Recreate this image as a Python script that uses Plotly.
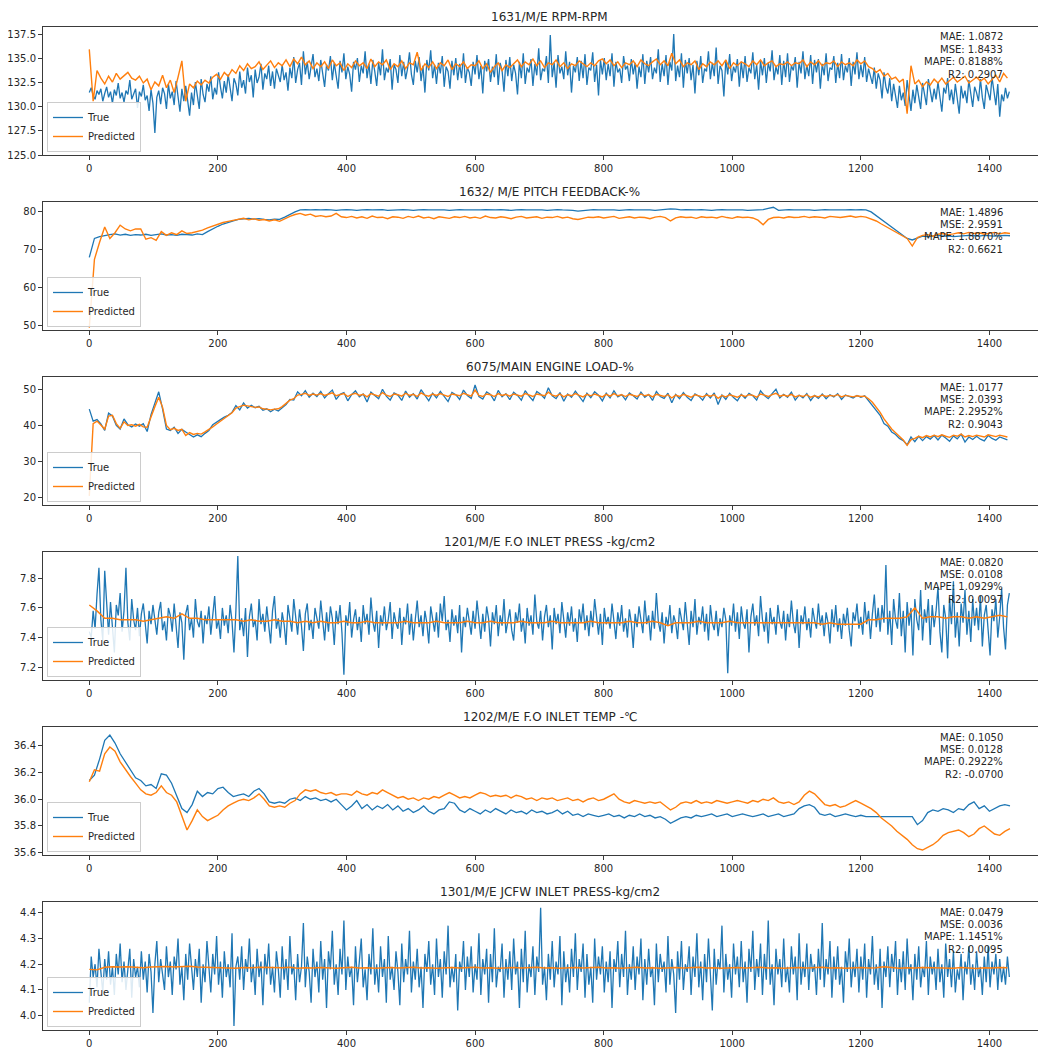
import plotly.graph_objects as go

# ---------------- data ----------------
titles = [
    "1631/M/E RPM-RPM",
    "1632/ M/E PITCH FEEDBACK-%",
    "6075/MAIN ENGINE LOAD-%",
    "1201/M/E F.O INLET PRESS -kg/cm2",
    "1202/M/E F.O INLET TEMP -\u2103",
    "1301/M/E JCFW INLET PRESS-kg/cm2",
]

metrics = [
    ["MAE: 1.0872", "MSE: 1.8433", "MAPE: 0.8188%", "R2: 0.2907"],
    ["MAE: 1.4896", "MSE: 2.9591", "MAPE: 1.8870%", "R2: 0.6621"],
    ["MAE: 1.0177", "MSE: 2.0393", "MAPE: 2.2952%", "R2: 0.9043"],
    ["MAE: 0.0820", "MSE: 0.0108", "MAPE: 1.0929%", "R2: 0.0097"],
    ["MAE: 0.1050", "MSE: 0.0128", "MAPE: 0.2922%", "R2: -0.0700"],
    ["MAE: 0.0479", "MSE: 0.0036", "MAPE: 1.1451%", "R2: 0.0095"],
]

x_ticks = [0, 200, 400, 600, 800, 1000, 1200, 1400]

y_ticks = [
    [125.0, 127.5, 130.0, 132.5, 135.0, 137.5],
    [50, 60, 70, 80],
    [20, 30, 40, 50],
    [7.2, 7.4, 7.6, 7.8],
    [35.6, 35.8, 36.0, 36.2, 36.4],
    [4.0, 4.1, 4.2, 4.3, 4.4],
]
y_tick_fmt = [".1f", "d", "d", ".1f", ".1f", ".1f"]

# sampling step (time index) of each stored series
true_step = [3, 8, 6, 3, 8, 3]
pred_step = [6, 8, 6, 12, 8, 12]

rpm_true = [
    131.5, 132.0, 131.2, 130.8, 131.7, 131.3, 131.9, 130.6, 131.4, 132.1,
    131.0, 131.6, 130.4, 131.8, 131.2, 132.5, 130.9, 131.5, 130.5, 131.7,
    131.3, 132.8, 130.8, 131.4, 131.9, 129.9, 131.6, 131.1, 132.3, 130.7,
    131.2, 129.6, 131.8, 130.4, 127.3, 131.0, 131.7, 130.3, 132.0, 131.4,
    129.8, 132.4, 130.9, 131.6, 130.2, 132.7, 131.1, 129.5, 131.9, 130.6,
    132.2, 130.8, 129.1, 131.5, 130.2, 132.6, 131.0, 129.8, 132.9, 131.3,
    130.5, 132.4, 131.6, 133.2, 130.8, 132.0, 131.3, 133.6, 132.1, 130.9,
    132.7, 131.5, 133.4, 132.2, 130.6, 133.0, 132.4, 131.2, 133.7, 132.0,
    132.8, 131.4, 134.1, 132.6, 133.3, 131.0, 133.9, 132.5, 133.1, 134.5,
    131.8, 133.5, 132.9, 134.3, 132.2, 133.7, 131.9, 134.0, 133.2, 132.6,
    134.4, 132.8, 133.6, 131.7, 134.1, 133.0, 135.2, 132.5, 133.9, 134.6,
    132.3, 135.8, 133.4, 134.7, 132.9, 134.2, 135.5, 133.1, 134.0, 132.7,
    134.9, 133.5, 132.1, 134.4, 133.8, 135.3, 132.8, 134.6, 133.2, 131.9,
    134.8, 133.6, 135.6, 132.9, 134.2, 133.4, 131.6, 134.7, 133.9, 135.1,
    132.6, 134.3, 133.5, 135.8, 133.0, 134.5, 132.4, 134.9, 133.7, 132.2,
    134.6, 133.3, 136.0, 132.8, 134.1, 133.6, 135.0, 131.8, 134.4, 133.9,
    132.5, 135.4, 133.2, 134.7, 132.9, 134.0, 135.7, 133.4, 132.3, 134.8,
    133.6, 135.2, 132.7, 134.3, 131.5, 134.9, 133.8, 135.9, 133.0, 134.4,
    132.4, 134.6, 133.5, 135.3, 132.1, 134.2, 133.7, 131.9, 134.8, 133.3,
    135.1, 132.8, 134.5, 133.0, 135.6, 132.5, 134.1, 133.6, 132.2, 134.7,
    133.4, 135.4, 132.9, 134.3, 131.4, 134.8, 133.7, 135.0, 132.6, 134.2,
    133.1, 135.5, 132.3, 134.6, 133.8, 131.6, 134.9, 133.2, 135.2, 132.7,
    134.4, 133.5, 131.3, 134.7, 133.0, 135.6, 132.4, 134.1, 133.6, 135.0,
    132.2, 134.5, 133.3, 136.1, 132.8, 134.0, 133.7, 135.3, 132.5, 137.5,
    133.1, 134.6, 132.0, 135.4, 133.5, 134.2, 132.9, 135.8, 133.3, 134.7,
    131.5, 134.3, 133.6, 135.2, 132.7, 134.8, 133.0, 135.5, 132.3, 134.1,
    133.8, 135.7, 132.6, 134.4, 131.2, 134.9, 133.4, 135.1, 132.8, 134.5,
    133.2, 135.6, 132.1, 134.7, 133.6, 134.0, 132.5, 135.3, 133.9, 134.3,
    132.7, 135.0, 133.4, 134.6, 131.9, 134.2, 133.1, 135.5, 132.4, 134.8,
    133.6, 135.2, 132.9, 134.1, 133.5, 136.0, 132.6, 134.5, 133.2, 135.4,
    132.3, 134.7, 133.8, 137.6, 132.7, 134.3, 133.1, 135.6, 132.0, 134.9,
    133.5, 135.1, 132.8, 134.4, 131.4, 134.8, 133.3, 135.3, 132.5, 134.0,
    133.7, 135.8, 132.9, 134.6, 133.2, 136.2, 132.4, 134.3, 133.8, 131.1,
    134.9, 133.4, 135.5, 132.7, 134.2, 133.6, 135.0, 132.1, 134.7, 133.0,
    135.3, 132.6, 134.1, 133.5, 135.7, 132.9, 134.4, 131.8, 134.8, 133.3,
    135.1, 132.5, 134.6, 133.7, 135.9, 132.8, 134.2, 133.4, 135.4, 132.3,
    134.8, 133.1, 135.6, 132.6, 134.3, 133.8, 135.2, 132.0, 134.7, 133.5,
    135.8, 132.9, 134.4, 133.2, 135.4, 132.4, 134.9, 133.6, 135.0, 131.9,
    134.5, 133.3, 135.6, 132.7, 134.1, 133.9, 135.3, 132.5, 134.6, 133.0,
    135.5, 132.8, 134.3, 133.6, 135.1, 132.2, 134.7, 133.4, 135.7, 132.9,
    134.4, 133.1, 135.2, 132.6, 134.0, 133.3, 132.4, 134.1, 131.9, 133.5,
    132.8, 130.9, 133.6, 132.1, 131.4, 133.0, 130.6, 132.4, 131.2, 129.9,
    132.2, 130.7, 131.5, 130.1, 132.8, 130.9, 129.6, 131.8, 130.4, 132.3,
    131.0, 129.8, 132.5, 131.3, 130.2, 132.9, 131.6, 130.5, 131.9, 130.8,
    132.6, 131.2, 129.5, 132.0, 131.4, 133.0, 130.7, 131.8, 130.3, 132.4,
    131.1, 129.3, 132.2, 130.9, 131.7, 130.4, 132.8, 131.3, 130.0, 132.1,
    131.5, 130.6, 132.9, 131.0, 129.8, 132.3, 131.4, 130.7, 133.1, 131.6,
    130.2, 132.4, 129.0, 131.3, 130.6, 132.0, 130.9, 131.6,
]
rpm_pred = [
    136.0, 130.6, 133.8, 133.0, 132.4, 133.2, 132.6, 133.5, 132.9, 133.3,
    133.6, 133.0, 132.8, 133.2, 132.5, 132.9, 131.8, 132.6, 132.2, 133.3,
    132.0, 132.8, 131.5, 133.1, 134.8, 130.6, 132.4, 132.0, 132.7, 132.3,
    132.8, 132.5, 133.1, 133.4, 132.9, 133.6, 133.2, 133.9, 133.5, 134.3,
    133.8, 134.5, 134.0, 134.2, 134.7, 133.9, 134.4, 134.8, 134.1, 134.6,
    134.3, 134.9, 134.2, 135.0, 134.5, 135.2, 134.4, 134.8, 134.0, 134.6,
    134.2, 134.7, 134.0, 134.9, 134.3, 134.6, 133.8, 134.5, 134.1, 134.8,
    134.3, 134.6, 134.0, 135.0, 134.2, 134.7, 134.4, 134.9, 133.9, 134.5,
    134.2, 134.8, 134.0, 134.6, 134.4, 135.7, 133.8, 134.5, 134.1, 134.7,
    134.0, 134.6, 134.3, 134.9, 133.9, 134.5, 134.2, 134.7, 134.0, 134.4,
    134.3, 134.8, 134.0, 134.5, 133.6, 134.2, 134.6, 133.8, 134.4, 134.1,
    134.5, 134.9, 134.2, 134.7, 134.4, 135.0, 134.3, 134.8, 134.1, 134.6,
    134.4, 134.9, 134.2, 134.6, 134.0, 134.5, 134.3, 134.8, 134.5, 134.2,
    134.6, 134.3, 134.8, 135.0, 134.5, 134.9, 134.3, 134.7, 134.1, 134.6,
    134.4, 134.8, 134.2, 134.9, 134.5, 134.3, 134.7, 135.0, 134.4, 134.8,
    134.3, 135.6, 134.5, 134.9, 134.2, 134.6, 134.4, 134.8, 133.9, 134.5,
    134.2, 134.7, 134.4, 134.8, 134.3, 134.9, 134.0, 134.6, 134.3, 134.7,
    134.5, 134.2, 134.8, 134.4, 134.9, 134.3, 134.6, 134.8, 134.2, 134.5,
    134.4, 134.7, 134.3, 134.6, 134.5, 134.9, 134.2, 134.7, 134.4, 134.8,
    134.3, 134.6, 134.5, 134.8, 134.2, 134.7, 134.4, 134.6, 134.3, 134.9,
    134.5, 134.8, 134.2, 134.0, 133.6, 133.9, 133.2, 133.5, 132.9, 133.1,
    132.6, 132.9, 129.3, 134.3, 132.4, 132.8, 132.1, 132.6, 132.3, 132.9,
    132.5, 133.0, 132.4, 132.8, 133.1, 132.6, 132.9, 133.2, 132.5, 132.8,
    133.1, 132.7, 133.0, 132.4, 132.9, 133.3, 132.6, 133.5, 133.0,
]

pitch_true = [
    68.0, 73.0, 73.5, 73.8, 74.0, 74.2, 73.9, 74.1, 73.8, 74.0,
    73.9, 74.1, 73.8, 74.0, 74.2, 73.9, 74.0, 73.8, 74.1, 74.0,
    73.9, 74.2, 74.0, 74.8, 75.6, 76.2, 76.8, 77.3, 77.6, 78.0,
    78.2, 78.3, 78.1, 78.2, 78.0, 77.9, 78.1, 78.0, 78.6, 79.4,
    80.0, 80.5, 80.6, 80.5, 80.6, 80.5, 80.6, 80.5, 80.4, 80.5,
    80.6, 80.5, 80.4, 80.5, 80.6, 80.5, 80.5, 80.6, 80.4, 80.5,
    80.5, 80.6, 80.5, 80.4, 80.5, 80.6, 80.5, 80.5, 80.6, 80.5,
    80.4, 80.5, 80.6, 80.5, 80.5, 80.4, 80.5, 80.6, 80.5, 80.5,
    80.6, 80.5, 80.4, 80.5, 80.6, 80.5, 80.5, 80.6, 80.5, 80.4,
    80.5, 80.6, 80.5, 80.5, 80.4, 80.2, 80.3, 80.5, 80.6, 80.5,
    80.5, 80.6, 80.5, 80.4, 80.5, 80.6, 80.5, 80.5, 80.6, 80.5,
    80.4, 80.5, 80.6, 80.8, 80.7, 80.5, 80.6, 80.5, 80.5, 80.6,
    80.5, 80.4, 80.5, 80.6, 80.5, 80.5, 80.6, 80.5, 80.4, 80.5,
    80.5, 80.6, 80.9, 81.2, 80.4, 80.5, 80.6, 80.5, 80.5, 80.6,
    80.5, 80.4, 80.5, 80.6, 80.5, 80.5, 80.4, 80.5, 80.6, 80.5,
    80.6, 80.5, 80.0, 79.0, 78.0, 77.0, 76.0, 75.0, 74.0, 73.0,
    72.6, 73.2, 73.6, 73.5, 73.6, 73.8, 73.6, 73.7, 73.5, 73.6,
    73.6, 73.8, 73.7, 73.6, 73.8, 73.7, 73.6, 73.7, 73.8, 73.7,
]
pitch_pred = [
    49.5, 67.5, 72.0, 76.0, 73.0, 74.5, 76.5, 75.5, 75.0, 75.5,
    75.5, 72.8, 73.2, 72.5, 74.8, 73.8, 74.5, 74.0, 75.0, 74.3,
    74.5, 74.8, 75.2, 75.8, 76.3, 76.8, 77.2, 77.5, 77.8, 78.0,
    78.3, 77.9, 78.2, 77.8, 78.0, 77.6, 77.9, 77.5, 78.2, 78.8,
    79.3, 79.6, 79.1, 79.4, 78.8, 79.0, 78.7, 78.9, 79.6, 78.7,
    78.5, 78.8, 78.4, 78.7, 78.3, 78.9, 78.5, 78.6, 78.2, 78.7,
    78.6, 78.3, 78.8, 78.5, 78.9, 78.4, 78.6, 78.2, 78.7, 78.5,
    78.3, 78.7, 78.5, 78.8, 78.4, 78.6, 78.3, 78.9, 78.5, 78.4,
    78.7, 78.5, 78.2, 78.6, 78.8, 78.4, 78.5, 78.7, 78.3, 78.6,
    78.5, 78.8, 78.4, 78.6, 78.2, 78.0, 78.3, 78.6, 78.5, 78.7,
    78.4, 78.6, 78.8, 78.3, 78.5, 78.7, 78.4, 78.6, 78.5, 78.2,
    78.6, 78.8, 78.5, 77.6, 78.4, 78.7, 78.5, 78.6, 78.3, 78.7,
    78.5, 78.6, 78.4, 78.8, 78.5, 78.3, 78.7, 78.5, 78.6, 78.4,
    77.8, 76.6, 78.0, 78.5, 78.6, 78.4, 78.7, 78.5, 78.6, 78.8,
    78.5, 78.7, 78.6, 78.4, 78.8, 78.6, 78.5, 78.7, 78.9, 78.6,
    78.8, 78.6, 78.2, 77.6, 76.8, 76.0, 75.2, 74.6, 73.8, 73.0,
    71.0, 73.2, 73.8, 74.0, 73.6, 74.1, 74.3, 74.0, 74.2, 74.5,
    74.2, 74.6, 74.3, 74.5, 74.1, 74.4, 74.6, 74.2, 74.5, 74.3,
]

load_true = [
    44.5, 41.2, 41.6, 40.4, 38.6, 43.4, 42.6, 40.0, 39.0, 41.8,
    40.2, 39.6, 40.4, 39.8, 40.5, 38.3, 43.0, 46.0, 49.3, 44.5,
    39.0, 38.6, 39.5, 37.8, 38.9, 38.2, 37.6, 36.8, 37.4, 36.9,
    37.8, 38.6, 40.2, 40.8, 41.6, 42.3, 42.8, 43.6, 45.5, 44.3,
    46.2, 44.8, 45.6, 44.9, 45.3, 44.2, 44.6, 43.8, 44.5, 44.0,
    45.0, 45.8, 47.2, 47.0, 49.3, 48.2, 49.6, 47.8, 48.9, 48.0,
    49.4, 47.6, 48.8, 49.8, 47.2, 48.6, 49.1, 46.8, 48.5, 49.6,
    47.9, 48.7, 46.5, 49.2, 48.3, 47.4, 50.0, 48.1, 47.0, 49.0,
    48.4, 46.9, 49.5, 47.8, 48.8, 47.3, 49.9, 48.2, 46.8, 48.9,
    47.6, 49.4, 48.0, 46.6, 49.1, 48.5, 47.2, 49.8, 48.3, 47.5,
    51.2, 48.0, 47.3, 49.3, 48.6, 46.8, 49.7, 47.9, 48.8, 47.1,
    49.2, 48.3, 47.0, 49.6, 48.1, 46.9, 49.4, 48.6, 47.5, 50.4,
    48.2, 47.4, 49.1, 46.7, 48.7, 47.8, 49.5, 48.0, 46.6, 48.9,
    47.7, 49.3, 48.4, 46.8, 48.9, 47.6, 49.6, 47.9, 48.5, 47.1,
    49.0, 48.2, 47.3, 49.2, 47.8, 48.6, 46.9, 49.4, 48.0, 47.5,
    48.9, 46.3, 48.6, 47.4, 49.1, 47.8, 46.9, 48.7, 48.1, 47.0,
    48.8, 47.6, 49.0, 45.8, 48.4, 47.2, 48.9, 47.7, 46.8, 48.6,
    47.5, 48.9, 48.2, 47.0, 49.6, 48.3, 47.4, 48.8, 50.0, 47.6,
    48.6, 47.8, 49.2, 47.0, 48.4, 47.6, 48.8, 46.9, 48.3, 47.5,
    48.7, 47.4, 48.5, 47.9, 48.8, 47.2, 48.4, 48.0, 47.6, 48.3,
    47.8, 48.2, 46.8, 45.6, 44.2, 42.8, 40.5, 39.8, 38.2, 37.5,
    36.4, 35.8, 34.6, 36.8, 35.5, 37.0, 35.8, 36.9, 36.2, 37.2,
    36.0, 37.3, 36.5, 35.6, 37.1, 36.3, 37.6, 35.4, 36.8, 36.1,
    37.0, 36.2, 35.7, 37.2, 36.4, 35.9, 36.8, 36.3, 36.0,
]
load_pred = [
    20.5, 40.5, 41.2, 40.2, 39.0, 42.6, 42.8, 40.5, 39.2, 41.0,
    40.0, 40.2, 39.8, 40.3, 39.6, 39.5, 42.5, 45.2, 47.8, 45.0,
    40.0, 38.8, 39.2, 38.6, 38.9, 37.2, 38.0, 37.5, 37.8, 37.6,
    38.2, 38.8, 39.6, 40.4, 41.2, 41.8, 42.6, 43.5, 44.8, 45.3,
    45.6, 45.4, 45.2, 45.0, 45.1, 44.6, 44.5, 44.3, 44.5, 44.6,
    45.2, 46.0, 47.0, 47.4, 48.4, 48.6, 48.9, 48.3, 48.7, 48.4,
    48.8, 48.3, 48.6, 49.0, 48.2, 48.5, 48.8, 48.0, 48.6, 48.9,
    48.3, 48.6, 47.9, 48.8, 48.5, 48.1, 49.1, 48.4, 48.0, 48.7,
    48.5, 48.1, 48.9, 48.3, 48.6, 48.0, 49.0, 48.4, 48.1, 48.7,
    48.3, 48.8, 48.4, 48.0, 48.7, 48.5, 48.2, 48.9, 48.4, 48.1,
    49.8, 48.3, 48.0, 48.7, 48.5, 48.0, 48.8, 48.3, 48.6, 48.1,
    48.7, 48.4, 48.1, 48.8, 48.3, 48.0, 48.7, 48.5, 48.2, 49.2,
    48.4, 48.1, 48.7, 47.9, 48.5, 48.2, 48.8, 48.3, 47.9, 48.6,
    48.2, 48.7, 48.4, 47.9, 48.6, 48.1, 48.8, 48.2, 48.5, 48.0,
    48.6, 48.3, 48.0, 48.7, 48.2, 48.5, 47.9, 48.6, 48.3, 48.0,
    48.5, 47.6, 48.4, 48.0, 48.6, 48.2, 47.8, 48.5, 48.3, 47.9,
    48.4, 48.1, 48.5, 47.5, 48.3, 47.9, 48.5, 48.1, 47.8, 48.4,
    48.0, 48.5, 48.3, 47.8, 48.7, 48.4, 48.0, 48.5, 48.9, 48.1,
    48.4, 48.1, 48.6, 47.9, 48.3, 48.0, 48.5, 47.8, 48.2, 47.9,
    48.4, 48.0, 48.3, 48.1, 48.5, 47.9, 48.3, 48.1, 47.9, 48.2,
    48.0, 48.1, 47.4, 46.4, 45.0, 43.6, 41.8, 40.4, 39.0, 38.0,
    37.0, 36.0, 34.5, 36.0, 36.4, 37.0, 36.6, 37.2, 36.8, 37.3,
    36.9, 37.4, 37.0, 36.7, 37.3, 37.0, 37.6, 36.8, 37.2, 36.9,
    37.3, 37.0, 36.8, 37.4, 37.1, 36.9, 37.3, 37.0, 36.8,
]

fo_press_true = [
    7.44, 7.40, 7.58, 7.46, 7.69, 7.87, 7.52, 7.38, 7.85, 7.60,
    7.42, 7.64, 7.48, 7.30, 7.62, 7.55, 7.70, 7.44, 7.58, 7.87,
    7.50, 7.38, 7.66, 7.52, 7.45, 7.60, 7.41, 7.56, 7.63, 7.47,
    7.36, 7.58, 7.49, 7.62, 7.53, 7.42, 7.57, 7.64, 7.45, 7.51,
    7.38, 7.60, 7.55, 7.44, 7.63, 7.48, 7.33, 7.57, 7.50, 7.25,
    7.56, 7.62, 7.45, 7.53, 7.40, 7.66, 7.51, 7.47, 7.58, 7.36,
    7.55, 7.49, 7.61, 7.42, 7.57, 7.68, 7.46, 7.52, 7.39, 7.60,
    7.48, 7.55, 7.43, 7.62, 7.51, 7.30, 7.58, 7.95, 7.45, 7.53,
    7.41, 7.60, 7.27, 7.54, 7.63, 7.47, 7.52, 7.38, 7.66, 7.49,
    7.56, 7.44, 7.61, 7.50, 7.36, 7.58, 7.68, 7.46, 7.53, 7.40,
    7.57, 7.49, 7.35, 7.62, 7.51, 7.44, 7.66, 7.55, 7.42, 7.59,
    7.48, 7.31, 7.56, 7.63, 7.45, 7.52, 7.39, 7.60, 7.54, 7.46,
    7.65, 7.50, 7.38, 7.57, 7.44, 7.61, 7.53, 7.35, 7.58, 7.49,
    7.62, 7.43, 7.15, 7.55, 7.48, 7.64, 7.40, 7.52, 7.59, 7.45,
    7.54, 7.37, 7.62, 7.49, 7.56, 7.42, 7.67, 7.51, 7.44, 7.58,
    7.33, 7.55, 7.48, 7.61, 7.45, 7.52, 7.64, 7.39, 7.57, 7.50,
    7.46, 7.60, 7.35, 7.54, 7.49, 7.63, 7.42, 7.56, 7.38, 7.52,
    7.65, 7.47, 7.55, 7.41, 7.58, 7.50, 7.36, 7.61, 7.53, 7.44,
    7.57, 7.40, 7.63, 7.51, 7.68, 7.45, 7.52, 7.37, 7.59, 7.48,
    7.55, 7.43, 7.62, 7.30, 7.54, 7.47, 7.60, 7.52, 7.42, 7.58,
    7.46, 7.65, 7.50, 7.39, 7.56, 7.44, 7.61, 7.53, 7.34, 7.57,
    7.49, 7.62, 7.41, 7.55, 7.48, 7.66, 7.43, 7.52, 7.59, 7.45,
    7.38, 7.57, 7.50, 7.63, 7.44, 7.53, 7.36, 7.60, 7.48, 7.55,
    7.42, 7.69, 7.51, 7.46, 7.58, 7.38, 7.54, 7.62, 7.47, 7.55,
    7.32, 7.60, 7.49, 7.56, 7.43, 7.64, 7.52, 7.40, 7.57, 7.48,
    7.61, 7.44, 7.53, 7.37, 7.59, 7.50, 7.63, 7.45, 7.55, 7.41,
    7.58, 7.47, 7.66, 7.52, 7.42, 7.56, 7.35, 7.60, 7.49, 7.54,
    7.46, 7.63, 7.51, 7.39, 7.57, 7.48, 7.62, 7.44, 7.53, 7.40,
    7.59, 7.50, 7.33, 7.56, 7.47, 7.61, 7.52, 7.43, 7.65, 7.49,
    7.55, 7.38, 7.58, 7.46, 7.70, 7.51, 7.44, 7.57, 7.36, 7.54,
    7.48, 7.62, 7.43, 7.55, 7.50, 7.39, 7.60, 7.53, 7.45, 7.64,
    7.51, 7.35, 7.58, 7.47, 7.66, 7.42, 7.54, 7.49, 7.61, 7.44,
    7.56, 7.38, 7.62, 7.50, 7.45, 7.58, 7.41, 7.53, 7.47, 7.60,
    7.52, 7.16, 7.55, 7.48, 7.63, 7.44, 7.57, 7.39, 7.61, 7.50,
    7.46, 7.59, 7.30, 7.54, 7.63, 7.48, 7.55, 7.41, 7.68, 7.52,
    7.44, 7.57, 7.36, 7.60, 7.49, 7.54, 7.42, 7.62, 7.51, 7.46,
    7.58, 7.38, 7.56, 7.47, 7.65, 7.50, 7.43, 7.59, 7.33, 7.55,
    7.49, 7.61, 7.45, 7.53, 7.40, 7.60, 7.52, 7.46, 7.63, 7.48,
    7.55, 7.41, 7.57, 7.50, 7.36, 7.59, 7.47, 7.62, 7.44, 7.53,
    7.39, 7.56, 7.48, 7.60, 7.45, 7.34, 7.57, 7.51, 7.63, 7.46,
    7.54, 7.42, 7.64, 7.49, 7.58, 7.39, 7.56, 7.69, 7.47, 7.60,
    7.44, 7.62, 7.50, 7.89, 7.42, 7.58, 7.35, 7.66, 7.52, 7.46,
    7.70, 7.41, 7.58, 7.30, 7.64, 7.48, 7.60, 7.28, 7.66, 7.52,
    7.45, 7.72, 7.38, 7.59, 7.50, 7.66, 7.35, 7.62, 7.47, 7.58,
    7.74, 7.44, 7.30, 7.62, 7.53, 7.26, 7.67, 7.49, 7.78, 7.40,
    7.57, 7.34, 7.63, 7.50, 7.72, 7.42, 7.58, 7.37, 7.66, 7.48,
    7.60, 7.45, 7.68, 7.34, 7.55, 7.62, 7.45, 7.28, 7.59, 7.51,
    7.66, 7.40, 7.54, 7.73, 7.47, 7.32, 7.62, 7.70,
]
fo_press_pred = [
    7.62, 7.58, 7.53, 7.53, 7.52, 7.52, 7.52, 7.51, 7.52, 7.53,
    7.54, 7.53, 7.56, 7.53, 7.53, 7.52, 7.52, 7.52, 7.52, 7.52,
    7.51, 7.52, 7.51, 7.51, 7.52, 7.51, 7.51, 7.50, 7.51, 7.50,
    7.51, 7.50, 7.50, 7.51, 7.50, 7.50, 7.51, 7.50, 7.50, 7.50,
    7.50, 7.51, 7.50, 7.50, 7.50, 7.51, 7.50, 7.50, 7.50, 7.51,
    7.50, 7.50, 7.51, 7.50, 7.50, 7.50, 7.51, 7.50, 7.50, 7.50,
    7.51, 7.50, 7.50, 7.50, 7.50, 7.51, 7.50, 7.50, 7.50, 7.50,
    7.51, 7.50, 7.50, 7.51, 7.50, 7.48, 7.50, 7.50, 7.50, 7.51,
    7.50, 7.50, 7.50, 7.51, 7.50, 7.50, 7.50, 7.50, 7.50, 7.50,
    7.50, 7.50, 7.50, 7.50, 7.50, 7.49, 7.50, 7.49, 7.49, 7.49,
    7.49, 7.52, 7.52, 7.53, 7.53, 7.53, 7.54, 7.60, 7.53, 7.54,
    7.54, 7.53, 7.54, 7.54, 7.53, 7.54, 7.53, 7.54, 7.55, 7.54,
]

fo_temp_true = [
    36.14, 36.18, 36.30, 36.44, 36.48, 36.42, 36.34, 36.28, 36.22, 36.16,
    36.14, 36.10, 36.11, 36.08, 36.19, 36.18, 36.12, 36.03, 35.93, 35.90,
    35.96, 36.06, 36.02, 36.05, 36.04, 36.08, 36.09, 36.05, 36.02, 36.03,
    36.04, 36.02, 36.06, 36.08, 36.04, 35.98, 35.97, 35.98, 35.97, 36.00,
    36.01, 35.99, 36.02, 36.00, 36.01, 35.99, 36.00, 35.98, 36.00, 35.96,
    35.92, 35.95, 35.99, 35.93, 35.96, 35.92, 35.95, 35.93, 35.96, 35.92,
    35.95, 35.91, 35.93, 35.90, 35.92, 35.95, 35.91, 35.89, 35.92, 35.93,
    35.98, 35.97, 35.92, 35.90, 35.93, 35.91, 35.89, 35.92, 35.90, 35.93,
    35.91, 35.89, 35.92, 35.90, 35.91, 35.89, 35.92, 35.90, 35.91, 35.89,
    35.90, 35.92, 35.89, 35.91, 35.88, 35.89, 35.87, 35.89, 35.88, 35.87,
    35.88, 35.89, 35.87, 35.88, 35.86, 35.88, 35.87, 35.89, 35.87, 35.88,
    35.86, 35.87, 35.85, 35.82, 35.84, 35.86, 35.87, 35.86, 35.88, 35.87,
    35.88, 35.89, 35.87, 35.88, 35.89, 35.87, 35.88, 35.89, 35.88, 35.87,
    35.88, 35.89, 35.87, 35.88, 35.89, 35.87, 35.88, 35.89, 35.93, 35.95,
    35.96, 35.94, 35.89, 35.88, 35.89, 35.87, 35.88, 35.89, 35.88, 35.87,
    35.88, 35.87, 35.87, 35.87, 35.87, 35.87, 35.87, 35.87, 35.87, 35.87,
    35.87, 35.81, 35.84, 35.90, 35.92, 35.91, 35.93, 35.92, 35.90, 35.93,
    35.92, 35.96, 35.98, 35.93, 35.95, 35.91, 35.93, 35.95, 35.96, 35.95,
]
fo_temp_pred = [
    36.13, 36.22, 36.21, 36.34, 36.39, 36.36, 36.28, 36.22, 36.17, 36.12,
    36.07, 36.04, 36.03, 36.05, 36.10, 36.05, 36.03, 35.98, 35.88, 35.77,
    35.84, 35.92, 35.87, 35.84, 35.86, 35.88, 35.92, 35.95, 35.97, 35.99,
    36.00, 35.99, 36.01, 36.04, 36.00, 35.95, 35.94, 35.95, 35.94, 35.97,
    35.99, 36.04, 36.07, 36.06, 36.07, 36.05, 36.04, 36.05, 36.03, 36.04,
    36.04, 36.03, 36.06, 36.04, 36.03, 36.05, 36.04, 36.07, 36.05, 36.03,
    36.01, 36.02, 36.00, 36.01, 35.99, 36.01, 36.00, 36.02, 36.01, 36.03,
    36.05, 36.03, 36.01, 36.02, 36.01, 36.03, 36.05, 36.04, 36.02, 36.03,
    36.02, 36.03, 36.01, 36.03, 36.02, 36.00, 36.01, 35.99, 36.01, 36.00,
    36.01, 35.99, 36.00, 36.01, 35.99, 36.00, 35.98, 36.00, 36.01, 35.99,
    36.00, 36.02, 36.04, 36.00, 35.98, 35.97, 35.99, 35.98, 35.97, 35.98,
    35.97, 35.98, 35.95, 35.92, 35.94, 35.97, 35.98, 35.97, 35.99, 35.97,
    35.98, 35.97, 35.99, 35.98, 35.97, 35.98, 35.99, 35.98, 35.97, 35.99,
    35.98, 36.00, 35.99, 36.01, 35.98, 35.97, 35.98, 35.96, 35.98, 36.03,
    36.06, 36.04, 36.00, 35.96, 35.95, 35.96, 35.94, 35.95, 35.97, 35.99,
    35.97, 35.95, 35.93, 35.90, 35.86, 35.83, 35.80, 35.76, 35.73, 35.70,
    35.66, 35.63, 35.62, 35.64, 35.66, 35.69, 35.73, 35.75, 35.76, 35.77,
    35.75, 35.72, 35.74, 35.78, 35.80, 35.77, 35.74, 35.73, 35.76, 35.78,
]

jcfw_true = [
    4.05, 4.23, 4.15, 4.20, 4.11, 4.26, 4.17, 4.09, 4.22, 4.14,
    4.25, 4.12, 4.19, 4.08, 4.24, 4.16, 4.28, 4.13, 4.21, 4.10,
    4.18, 4.26, 4.07, 4.22, 4.15, 4.19, 4.11, 4.25, 4.14, 4.21,
    4.09, 4.24, 4.17, 4.01, 4.20, 4.29, 4.13, 4.22, 4.16, 4.10,
    4.27, 4.15, 4.21, 4.08, 4.23, 4.18, 4.30, 4.12, 4.19, 4.06,
    4.24, 4.14, 4.28, 4.17, 4.10, 4.22, 4.15, 4.26, 4.05, 4.20,
    4.13, 4.29, 4.18, 4.09, 4.24, 4.16, 4.31, 4.12, 4.21, 4.07,
    4.25, 4.15, 4.20, 4.11, 4.32, 3.96, 4.19, 4.23, 4.14, 4.27,
    4.10, 4.22, 4.17, 4.30, 4.13, 4.20, 4.08, 4.26, 4.15, 4.21,
    4.04, 4.24, 4.16, 4.28, 4.12, 4.19, 4.09, 4.25, 4.18, 4.07,
    4.27, 4.14, 4.22, 4.10, 4.31, 4.16, 4.20, 4.06, 4.24, 4.13,
    4.19, 4.36, 4.11, 4.23, 4.17, 4.05, 4.26, 4.15, 4.21, 4.09,
    4.29, 4.14, 4.22, 4.03, 4.25, 4.18, 4.33, 4.12, 4.20, 4.08,
    4.26, 4.16, 4.37, 4.10, 4.23, 4.15, 4.19, 4.04, 4.27, 4.13,
    4.21, 4.30, 4.11, 4.18, 4.06, 4.24, 4.16, 4.34, 4.12, 4.20,
    4.09, 4.27, 4.15, 4.22, 4.05, 4.31, 4.14, 4.19, 4.10, 4.25,
    4.17, 4.04, 4.28, 4.13, 4.22, 4.16, 4.33, 4.09, 4.21, 4.14,
    4.26, 4.11, 4.19, 4.03, 4.24, 4.17, 4.29, 4.12, 4.20, 4.08,
    4.30, 4.15, 4.22, 4.07, 4.25, 4.16, 4.35, 4.11, 4.19, 4.13,
    4.24, 4.02, 4.21, 4.17, 4.29, 4.10, 4.23, 4.15, 4.27, 4.09,
    4.20, 4.14, 4.32, 4.08, 4.22, 4.16, 4.26, 4.05, 4.24, 4.13,
    4.34, 4.11, 4.19, 4.17, 4.28, 4.07, 4.22, 4.14, 4.25, 4.10,
    4.30, 4.16, 4.21, 4.03, 4.26, 4.13, 4.33, 4.09, 4.20, 4.15,
    4.27, 4.08, 4.23, 4.17, 4.42, 4.12, 4.19, 4.06, 4.24, 4.14,
    4.29, 4.11, 4.21, 4.16, 4.31, 4.04, 4.25, 4.13, 4.20, 4.09,
    4.26, 4.15, 4.32, 4.10, 4.22, 4.17, 4.28, 4.07, 4.24, 4.12,
    4.19, 4.05, 4.30, 4.14, 4.23, 4.16, 4.27, 4.09, 4.21, 4.13,
    4.25, 4.03, 4.22, 4.17, 4.29, 4.11, 4.24, 4.15, 4.33, 4.08,
    4.20, 4.14, 4.27, 4.10, 4.23, 4.16, 4.30, 4.06, 4.22, 4.12,
    4.26, 4.15, 4.19, 4.04, 4.28, 4.13, 4.24, 4.17, 4.21, 4.09,
    4.31, 4.12, 4.22, 4.16, 4.01, 4.25, 4.14, 4.29, 4.10, 4.20,
    4.17, 4.27, 4.08, 4.23, 4.15, 4.32, 4.11, 4.21, 4.06, 4.24,
    4.13, 4.30, 4.16, 4.02, 4.26, 4.12, 4.22, 4.18, 4.35, 4.09,
    4.24, 4.14, 4.20, 4.07, 4.28, 4.16, 4.23, 4.11, 4.29, 4.13,
    4.21, 4.05, 4.26, 4.17, 4.33, 4.10, 4.22, 4.15, 4.28, 4.08,
    4.24, 4.14, 4.37, 4.12, 4.20, 4.04, 4.26, 4.16, 4.22, 4.11,
    4.30, 4.13, 4.19, 4.09, 4.27, 4.16, 4.23, 4.06, 4.32, 4.12,
    4.21, 4.15, 4.28, 4.10, 4.24, 4.17, 4.20, 4.08, 4.26, 4.14,
    4.36, 4.11, 4.22, 4.16, 4.29, 4.07, 4.23, 4.14, 4.27, 4.12,
    4.19, 4.05, 4.25, 4.17, 4.30, 4.11, 4.21, 4.15, 4.26, 4.09,
    4.23, 4.14, 4.28, 4.07, 4.22, 4.16, 4.31, 4.12, 4.20, 4.10,
    4.26, 4.03, 4.21, 4.15, 4.27, 4.11, 4.24, 4.17, 4.29, 4.08,
    4.22, 4.13, 4.25, 4.10, 4.30, 4.16, 4.20, 4.06, 4.24, 4.14,
    4.27, 4.11, 4.19, 4.15, 4.29, 4.08, 4.23, 4.16, 4.21, 4.10,
    4.26, 4.13, 4.20, 4.07, 4.28, 4.15, 4.22, 4.11, 4.25, 4.09,
    4.18, 4.14, 4.24, 4.06, 4.21, 4.16, 4.27, 4.12, 4.20, 4.10,
    4.25, 4.15, 4.19, 4.08, 4.23, 4.13, 4.27, 4.11, 4.21, 4.16,
    4.24, 4.10, 4.22, 4.13, 4.19, 4.12, 4.23, 4.15,
]
jcfw_pred = [
    4.180, 4.178, 4.188, 4.190, 4.189, 4.190, 4.188, 4.186, 4.189, 4.190,
    4.191, 4.189, 4.190, 4.192, 4.189, 4.188, 4.189, 4.187, 4.186, 4.184,
    4.187, 4.186, 4.188, 4.187, 4.185, 4.186, 4.188, 4.184, 4.186, 4.185,
    4.187, 4.186, 4.184, 4.186, 4.188, 4.185, 4.186, 4.184, 4.186, 4.187,
    4.185, 4.186, 4.188, 4.185, 4.186, 4.184, 4.186, 4.187, 4.185, 4.186,
    4.188, 4.185, 4.186, 4.184, 4.186, 4.187, 4.185, 4.186, 4.188, 4.185,
    4.186, 4.184, 4.186, 4.187, 4.185, 4.186, 4.188, 4.185, 4.186, 4.184,
    4.186, 4.188, 4.185, 4.186, 4.184, 4.186, 4.187, 4.185, 4.186, 4.188,
    4.185, 4.186, 4.184, 4.186, 4.187, 4.185, 4.186, 4.188, 4.185, 4.186,
    4.184, 4.186, 4.187, 4.185, 4.186, 4.188, 4.185, 4.186, 4.184, 4.186,
    4.187, 4.185, 4.186, 4.190, 4.186, 4.184, 4.186, 4.185, 4.187, 4.186,
    4.185, 4.186, 4.184, 4.187, 4.185, 4.183, 4.186, 4.185, 4.187, 4.186,
]

true_series = [rpm_true, pitch_true, load_true, fo_press_true, fo_temp_true, jcfw_true]
pred_series = [rpm_pred, pitch_pred, load_pred, fo_press_pred, fo_temp_pred, jcfw_pred]

y_ranges = [
    [125.0, 138.33],
    [48.87, 82.6],
    [17.98, 53.4],
    [7.114, 7.977],
    [35.583, 36.54],
    [3.944, 4.442],
]

# ---------------- layout geometry ----------------
# The page body has an 8px default margin, so the figure is drawn 8px
# in from the window's top-left corner; positions below are window pixels.
OFF = 8
W, H = 1046 - OFF, 1050 - OFF
PLOT_L = 43          # left edge of every axes box (window px)
PANEL_TOP0 = 27      # top of first axes box (window px)
PANEL_H = 128
PANEL_PITCH = 175
X_RANGE = [-72, 1488]

BLUE = "#1f77b4"
ORANGE = "#ff7f0e"
FONT = "DejaVu Sans"
TXT = "#262626"


def px_x(px):
    return (px - OFF) / W


def px_y(px):
    return 1 - (px - OFF) / H


fig = go.Figure()
annotations = []
layout = dict(
    width=W, height=H,
    margin=dict(l=0, r=0, t=0, b=0),
    paper_bgcolor="white", plot_bgcolor="white",
    font=dict(family=FONT, size=10, color=TXT),
    showlegend=True,
)

for i in range(6):
    n = "" if i == 0 else str(i + 1)
    xa, ya = "x" + n, "y" + n
    leg = "legend" + n
    top = PANEL_TOP0 + i * PANEL_PITCH
    bot = top + PANEL_H

    ts, ps = true_series[i], pred_series[i]
    fig.add_trace(go.Scatter(
        x=[k * true_step[i] for k in range(len(ts))], y=ts,
        mode="lines", name="True", line=dict(color=BLUE, width=1.3),
        xaxis=xa, yaxis=ya, legend=leg, hoverinfo="skip"))
    fig.add_trace(go.Scatter(
        x=[k * pred_step[i] for k in range(len(ps))], y=ps,
        mode="lines", name="Predicted", line=dict(color=ORANGE, width=1.4),
        xaxis=xa, yaxis=ya, legend=leg, hoverinfo="skip"))

    axis_common = dict(
        showgrid=False, zeroline=False, showline=True, mirror=True,
        linecolor="#3a3a3a", linewidth=1, ticks="outside", ticklen=4,
        tickcolor="#3a3a3a", tickwidth=1, automargin=False,
        tickfont=dict(family=FONT, size=10, color=TXT),
    )
    layout["xaxis" + n] = dict(
        axis_common, domain=[px_x(PLOT_L), 1.0], range=X_RANGE,
        anchor=ya, tickvals=x_ticks, ticktext=[str(v) for v in x_ticks])
    layout["yaxis" + n] = dict(
        axis_common, domain=[px_y(bot), px_y(top)], range=y_ranges[i],
        anchor=xa, tickvals=y_ticks[i],
        ticktext=[format(v, y_tick_fmt[i]) if y_tick_fmt[i] != "d" else str(int(v)) for v in y_ticks[i]])

    layout[leg] = dict(
        x=px_x(47), y=px_y(bot - 3), xanchor="left", yanchor="bottom",
        bgcolor="rgba(255,255,255,0.85)", bordercolor="#cccccc", borderwidth=1,
        font=dict(family=FONT, size=10, color=TXT),
        itemwidth=30, tracegroupgap=0,
    )

    # title
    annotations.append(dict(
        text=titles[i], x=px_x(549.5), y=px_y(top - 10), xref="paper", yref="paper",
        xanchor="center", yanchor="middle", showarrow=False,
        font=dict(family=FONT, size=12, color=TXT)))
    # metrics
    for j, line in enumerate(metrics[i]):
        annotations.append(dict(
            text=line, x=px_x(1005), y=px_y(top + 10 + j * 12.4), xref="paper", yref="paper",
            xanchor="right", yanchor="middle", showarrow=False,
            font=dict(family=FONT, size=10, color=TXT)))

layout["annotations"] = annotations
fig.update_layout(**layout)
fig.write_html("out.html")
